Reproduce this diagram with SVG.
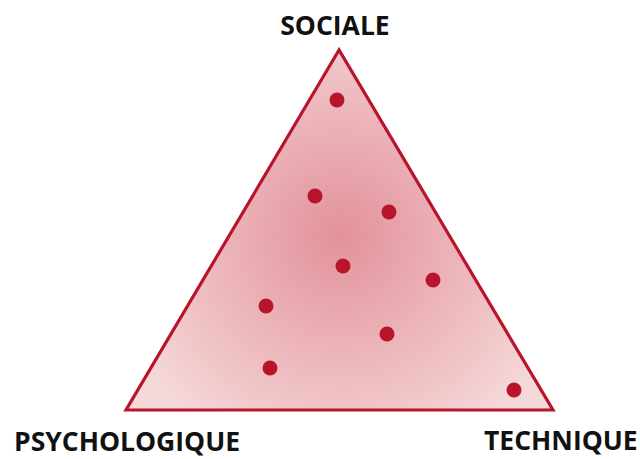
<svg xmlns="http://www.w3.org/2000/svg" width="640" height="459" viewBox="0 0 640 459">
<defs>
<radialGradient id="g" gradientUnits="userSpaceOnUse" cx="340" cy="235" r="240">
<stop offset="0" stop-color="#e3919a"/>
<stop offset="1" stop-color="#f5d9d9"/>
</radialGradient>
<style>
.lbl{font-family:"Open Sans","DejaVu Sans",sans-serif;font-weight:bold;fill:#111;}
.dot{fill:#b8142b;}
</style>
</defs>
<rect width="640" height="459" fill="#fff"/>
<g id="triangle">
<polygon points="339,50 126,410 553,410" fill="url(#g)" stroke="#b8142b" stroke-width="3.2" stroke-linejoin="miter"/>
</g>
<g id="connectors"></g>
<g id="dots">
<circle class="dot" cx="337" cy="100" r="7.5"/>
<circle class="dot" cx="315" cy="196" r="7.5"/>
<circle class="dot" cx="389" cy="212" r="7.5"/>
<circle class="dot" cx="343" cy="266" r="7.5"/>
<circle class="dot" cx="433" cy="280" r="7.5"/>
<circle class="dot" cx="266" cy="306" r="7.5"/>
<circle class="dot" cx="387" cy="334" r="7.5"/>
<circle class="dot" cx="270" cy="368" r="7.5"/>
<circle class="dot" cx="514" cy="390" r="7.5"/>
</g>
<g id="label-sociale"><text class="lbl" x="335" y="35" font-size="26.5" text-anchor="middle">SOCIALE</text></g>
<g id="label-psychologique"><text class="lbl" x="14" y="451" font-size="26.5">PSYCHOLOGIQUE</text></g>
<g id="label-technique"><text class="lbl" x="484" y="450" font-size="26.5">TECHNIQUE</text></g>
</svg>
